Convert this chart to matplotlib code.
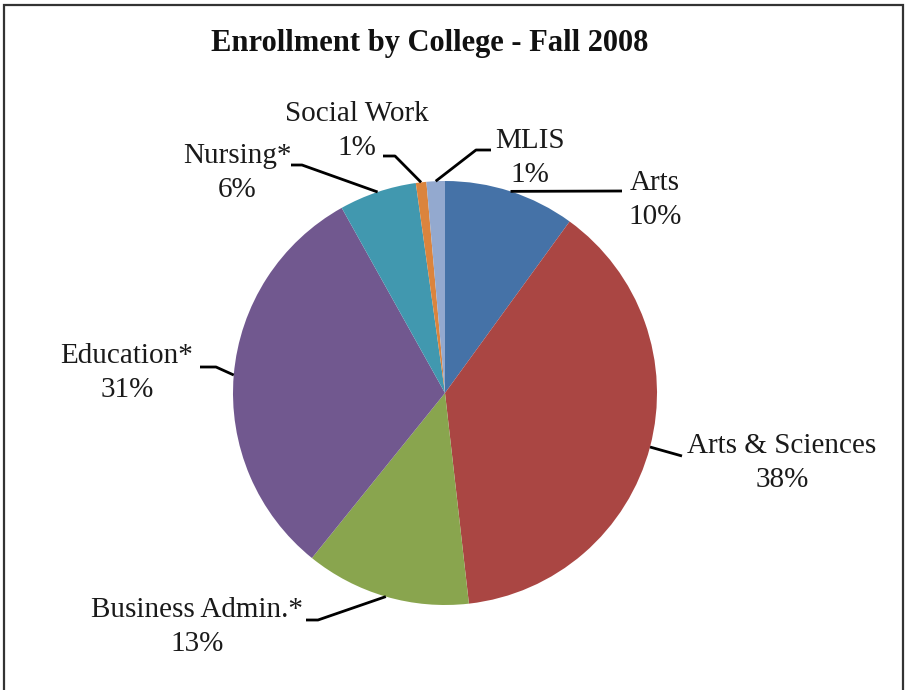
import matplotlib
matplotlib.use("Agg")
import matplotlib.pyplot as plt
import numpy as np
from matplotlib.patches import Rectangle

categories = ["Arts", "Arts & Sciences", "Business Admin.*", "Education*", "Nursing*", "Social Work", "MLIS"]
values = [10.0, 38.2, 12.6, 31.1, 5.9, 0.8, 1.4]
colors = ["#4572A7", "#AA4643", "#89A54E", "#71588F", "#4198AF", "#DB843D", "#93A9CF"]

W, H = 906, 690
fig = plt.figure(figsize=(W / 100, H / 100), dpi=100)
ax = fig.add_axes([0, 0, 1, 1])

plt.rcParams['font.family'] = ['Liberation Serif', 'DejaVu Serif']

cx, cy, R = 445, H - 393, 212
wedges, _ = ax.pie(values, colors=colors, startangle=90, counterclock=False,
                   center=(cx, cy), radius=R, frame=True,
                   wedgeprops=dict(linewidth=0))
ax.set_xlim(0, W)
ax.set_ylim(0, H)
ax.set_aspect("equal")
ax.axis("off")

def P(x, y):
    return (x, H - y)

layout = {
    "Arts": dict(text=(655, 200), path=[(622, 191)]),
    "Arts & Sciences": dict(text=(782, 463), path=[(682, 456)]),
    "Business Admin.*": dict(text=(197, 627), path=[(318, 620), (306, 620)]),
    "Education*": dict(text=(127, 373), path=[(216, 367), (200, 367)]),
    "Nursing*": dict(text=(237, 173), path=[(302, 165), (291, 165)]),
    "Social Work": dict(text=(357, 131), path=[(395, 156), (383, 156)]),
    "MLIS": dict(text=(530, 158), path=[(476, 150), (491, 150)]),
}

for w, cat, v in zip(wedges, categories, values):
    mid = np.deg2rad((w.theta1 + w.theta2) / 2)
    sx = cx + R * np.cos(mid)
    sy = cy + R * np.sin(mid)
    lay = layout[cat]
    xs = [sx] + [p[0] for p in lay["path"]]
    ys = [sy] + [H - p[1] for p in lay["path"]]
    ax.plot(xs, ys, color="black", lw=2.0, solid_capstyle="butt")
    tx, ty = P(*lay["text"])
    ax.text(tx, ty, f"{cat}\n{round(v):d}%", ha="center", va="center",
            fontsize=21, linespacing=1.36, color="#1a1a1a")

ax.text(430, H - 44, "Enrollment by College - Fall 2008", ha="center", va="center",
        fontsize=22, fontweight="bold", color="#111111")

fig.patches.append(Rectangle((4, -10), 899, H - 5 + 10, transform=None,
                             fill=False, edgecolor="#333333", linewidth=1.6))

fig.savefig("out.png", dpi=100)
